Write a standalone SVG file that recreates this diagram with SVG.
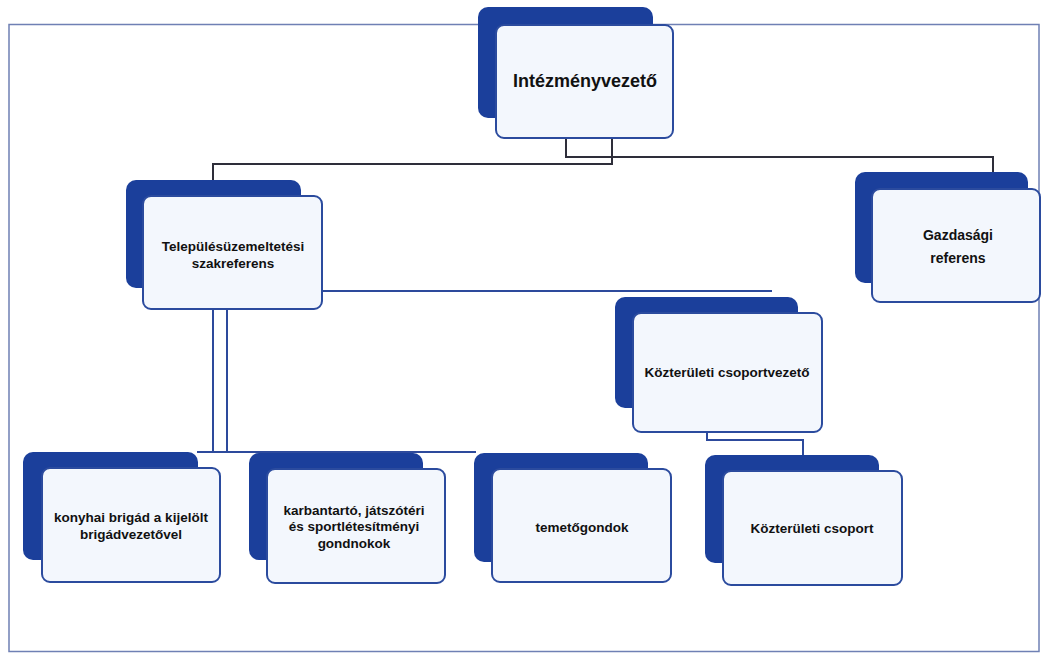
<svg xmlns="http://www.w3.org/2000/svg" width="1043" height="653" viewBox="0 0 1043 653">
<style>
.back{fill:#1b3f9b;}
.front{fill:#f3f7fd;stroke:#2b4b9e;stroke-width:2;}
.t{font-family:"Liberation Sans",Arial,sans-serif;font-weight:bold;fill:#111;text-anchor:middle;}
.s{font-size:13.5px;}
.dk{fill:none;stroke:#2e2e3a;stroke-width:2;}
.bl{fill:none;stroke:#2d4a9c;stroke-width:2;}
</style>
<rect x="0" y="0" width="1043" height="653" fill="#ffffff"/>
<rect id="frame" x="9" y="24.5" width="1030" height="627" fill="none" stroke="#6f80b4" stroke-width="1.5"/>
<g id="connectors">
<polyline class="dk" points="612,138 612,164 213,164 213,180"/>
<polyline class="dk" points="566,138 566,157 993,157 993,172"/>
<polyline class="bl" points="322,291 772,291"/>
<polyline class="bl" points="213,309 213,452"/>
<polyline class="bl" points="227,309 227,452"/>
<polyline class="bl" points="197,452 476,452"/>
<polyline class="bl" points="707,432 707,440 803,440 803,455"/>
</g>
<g id="n-intezmenyvezeto">
<rect class="back" x="478" y="7" width="175" height="111" rx="10"/>
<rect class="front" x="496" y="25" width="177" height="113" rx="8"/>
<text class="t" x="585" y="87" font-size="18">Intézményvezető</text>
</g>
<g id="n-telepules">
<rect class="back" x="126" y="180" width="175" height="108" rx="10"/>
<rect class="front" x="143" y="196" width="179" height="113" rx="8"/>
<text class="t s" x="233" y="251">Településüzemeltetési</text>
<text class="t s" x="233" y="268">szakreferens</text>
</g>
<g id="n-gazdasagi">
<rect class="back" x="855" y="172" width="173" height="111" rx="10"/>
<rect class="front" x="872" y="189" width="168" height="113" rx="8"/>
<text class="t" x="958" y="240" font-size="14">Gazdasági</text>
<text class="t" x="958" y="263" font-size="14">referens</text>
</g>
<g id="n-kozteruleti-vezeto">
<rect class="back" x="615" y="297" width="183" height="111" rx="10"/>
<rect class="front" x="633" y="313" width="189" height="119" rx="8"/>
<text class="t s" x="727" y="377">Közterületi csoportvezető</text>
</g>
<g id="n-konyhai">
<rect class="back" x="23" y="452" width="175" height="108" rx="10"/>
<rect class="front" x="42" y="468" width="178" height="114" rx="8"/>
<text class="t s" x="131" y="521.5">konyhai brigád a kijelölt</text>
<text class="t s" x="131" y="538.5">brigádvezetővel</text>
</g>
<g id="n-karbantarto">
<rect class="back" x="249" y="453" width="174" height="107" rx="10"/>
<rect class="front" x="267" y="469" width="178" height="114" rx="8"/>
<text class="t s" x="354" y="514.5">karbantartó, játszótéri</text>
<text class="t s" x="354" y="531">és sportlétesítményi</text>
<text class="t s" x="354" y="547.5">gondnokok</text>
</g>
<g id="n-temetogondok">
<rect class="back" x="474" y="453" width="174" height="109" rx="10"/>
<rect class="front" x="492" y="469" width="179" height="113" rx="8"/>
<text class="t s" x="582" y="532">temetőgondok</text>
</g>
<g id="n-kozteruleti-csoport">
<rect class="back" x="705" y="455" width="174" height="108" rx="10"/>
<rect class="front" x="723" y="471" width="179" height="114" rx="8"/>
<text class="t s" x="812" y="533">Közterületi csoport</text>
</g>
</svg>
